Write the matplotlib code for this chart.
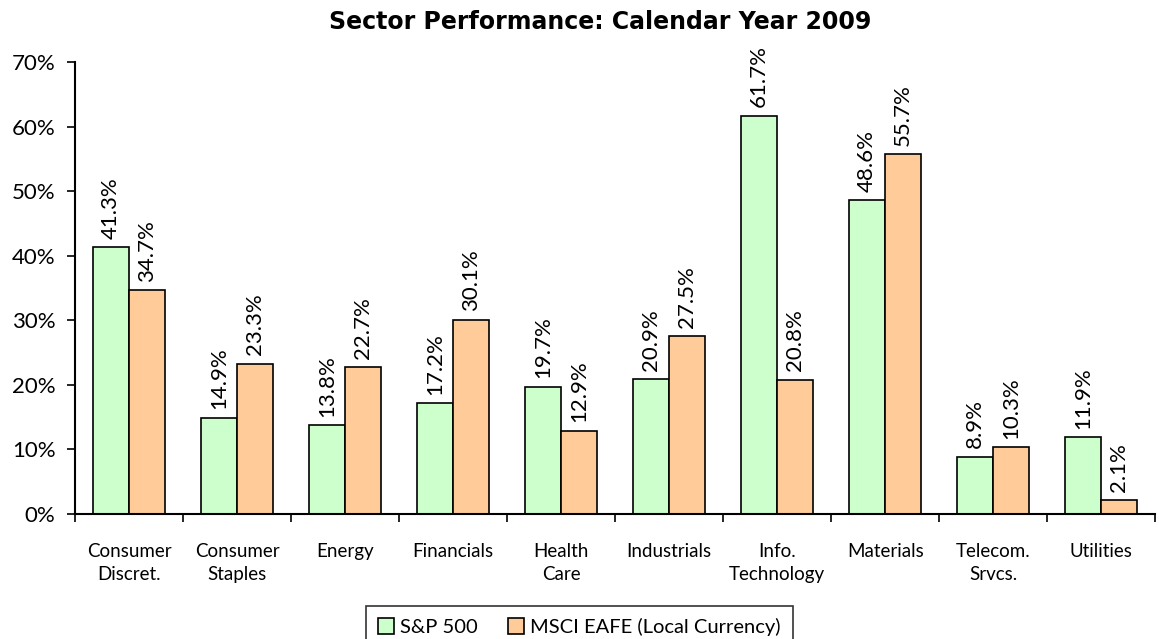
import matplotlib
matplotlib.use("Agg")
import matplotlib.pyplot as plt
import numpy as np

categories = ["Consumer\nDiscret.", "Consumer\nStaples", "Energy", "Financials", "Health\nCare",
              "Industrials", "Info.\nTechnology", "Materials", "Telecom.\nSrvcs.", "Utilities"]
sp500 = [41.3, 14.9, 13.8, 17.2, 19.7, 20.9, 61.7, 48.6, 8.9, 11.9]
eafe = [34.7, 23.3, 22.7, 30.1, 12.9, 27.5, 20.8, 55.7, 10.3, 2.1]
series_names = ["S&P 500", "MSCI EAFE (Local Currency)"]
yticks = [0, 10, 20, 30, 40, 50, 60, 70]

plt.rcParams['font.family'] = ['Lato', 'DejaVu Sans']

fig = plt.figure(figsize=(11.59, 6.39), dpi=100)
ax = fig.add_axes([0.0647, 0.1956, 0.932, 0.7074])

x = np.arange(len(categories))
w = 1/3
b1 = ax.bar(x - w/2, sp500, w, color="#CCFFCC", edgecolor="black", linewidth=1.2, label=series_names[0])
b2 = ax.bar(x + w/2, eafe, w, color="#FFCC99", edgecolor="black", linewidth=1.2, label=series_names[1])

for bars, vals in ((b1, sp500), (b2, eafe)):
    for r, v in zip(bars, vals):
        ax.text(r.get_x() + r.get_width()/2, v + 1.3, f"{v:.1f}%", rotation=90,
                ha="center", va="bottom", fontsize=16)

ax.set_xlim(-0.5, len(categories) - 0.5)
ax.set_ylim(0, 70)
ax.set_yticks(yticks)
ax.set_yticklabels([f"{t}%" for t in yticks], fontsize=16)
ax.set_xticks(np.arange(len(categories) + 1) - 0.5)
ax.set_xticklabels([])
ax.set_xticks(x, minor=True)
ax.set_xticklabels(categories, minor=True, fontsize=13.5, linespacing=1.45)
ax.tick_params(axis="x", which="minor", length=0, pad=21)
ax.tick_params(axis="x", which="major", length=6, width=1.2, direction="out")
ax.tick_params(axis="y", length=6, width=1.2, direction="out", pad=8)
for s in ("top", "right"):
    ax.spines[s].set_visible(False)
ax.spines["left"].set_linewidth(1.5)
ax.spines["bottom"].set_linewidth(1.5)

fig.suptitle("Sector Performance: Calendar Year 2009", fontsize=17, fontweight="bold",
             family=["DejaVu Sans"], x=0.518, y=0.985)

leg = fig.legend(loc="lower center", bbox_to_anchor=(0.5, -0.03), ncol=2, fontsize=14.5,
                 frameon=True, fancybox=False, edgecolor="black", handlelength=0.8, handleheight=0.8,
                 handletextpad=0.3, columnspacing=1.5, borderpad=0.6)
leg.get_frame().set_linewidth(1.2)

fig.savefig("out.png", dpi=100)
